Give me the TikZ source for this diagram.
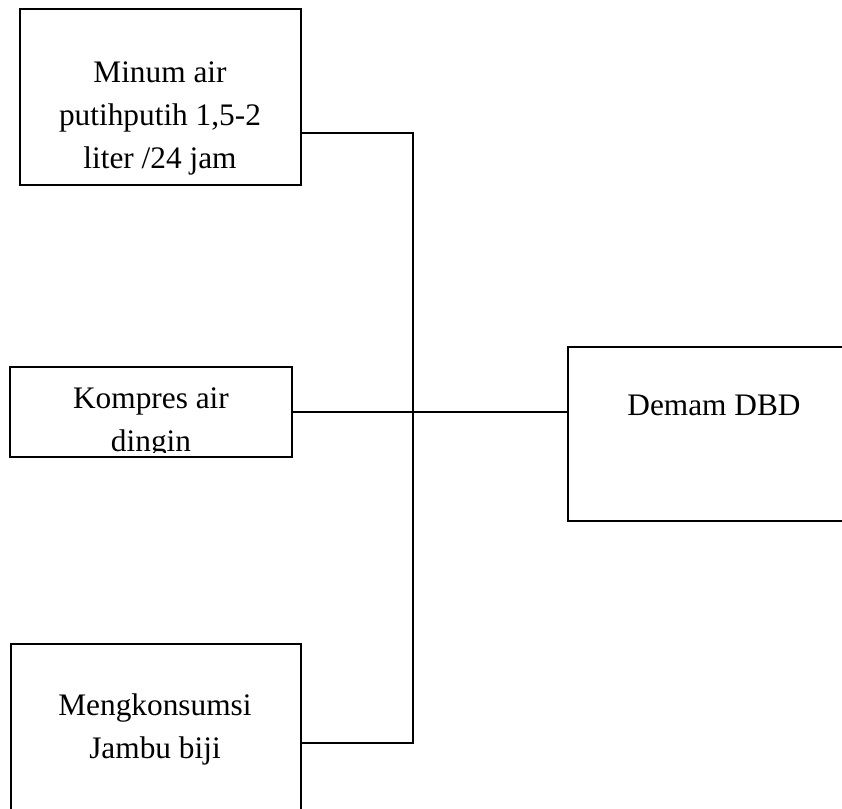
\documentclass[tikz,border=0pt]{standalone}
\usepackage{fontspec}
\setmainfont{Liberation Serif}
\begin{document}
\begin{tikzpicture}[x=0.75pt,y=-0.75pt,
  kotak/.style={draw,line width=1pt,inner sep=0pt},
  teks/.style={align=center,font=\fontsize{23.5}{32.25}\selectfont,inner sep=0pt},
  garis/.style={line width=1pt}]
\useasboundingbox (0,0) rectangle (842,808);
\clip (0,0) rectangle (842,808);

\node[kotak,minimum width=210.75pt,minimum height=132pt] (minum) at (160.5,97) {};
\node[teks] (minumteks) at (160,118) {Minum air\\putihputih 1,5-2\\liter /24 jam};

\node[kotak,minimum width=211.5pt,minimum height=67.5pt] (kompres) at (151,412) {};
\begin{scope}
\clip (kompres.north west) rectangle ([yshift=3.75pt]kompres.south east);
\node[teks] (kompresteks) at (151,422.5) {Kompres air\\dingin};
\end{scope}

\node[kotak,minimum width=217.5pt,minimum height=132pt] (jambu) at (156,732) {};
\node[teks] (jambuteks) at (155,729) {Mengkonsumsi\\Jambu biji};

\node[kotak,minimum width=219pt,minimum height=130.5pt] (demam) at (714,434) {};
\node[teks] (demamteks) at (714,405) {Demam DBD};

\coordinate (cabangatas) at (413,133);
\coordinate (cabangbawah) at (413,743);
\draw[garis] (minum.east |- cabangatas) -- (cabangatas) -- (cabangbawah) -- (jambu.east |- cabangbawah);
\draw[garis] (kompres.east) -- (kompres.east -| demam.west);
\end{tikzpicture}
\end{document}
